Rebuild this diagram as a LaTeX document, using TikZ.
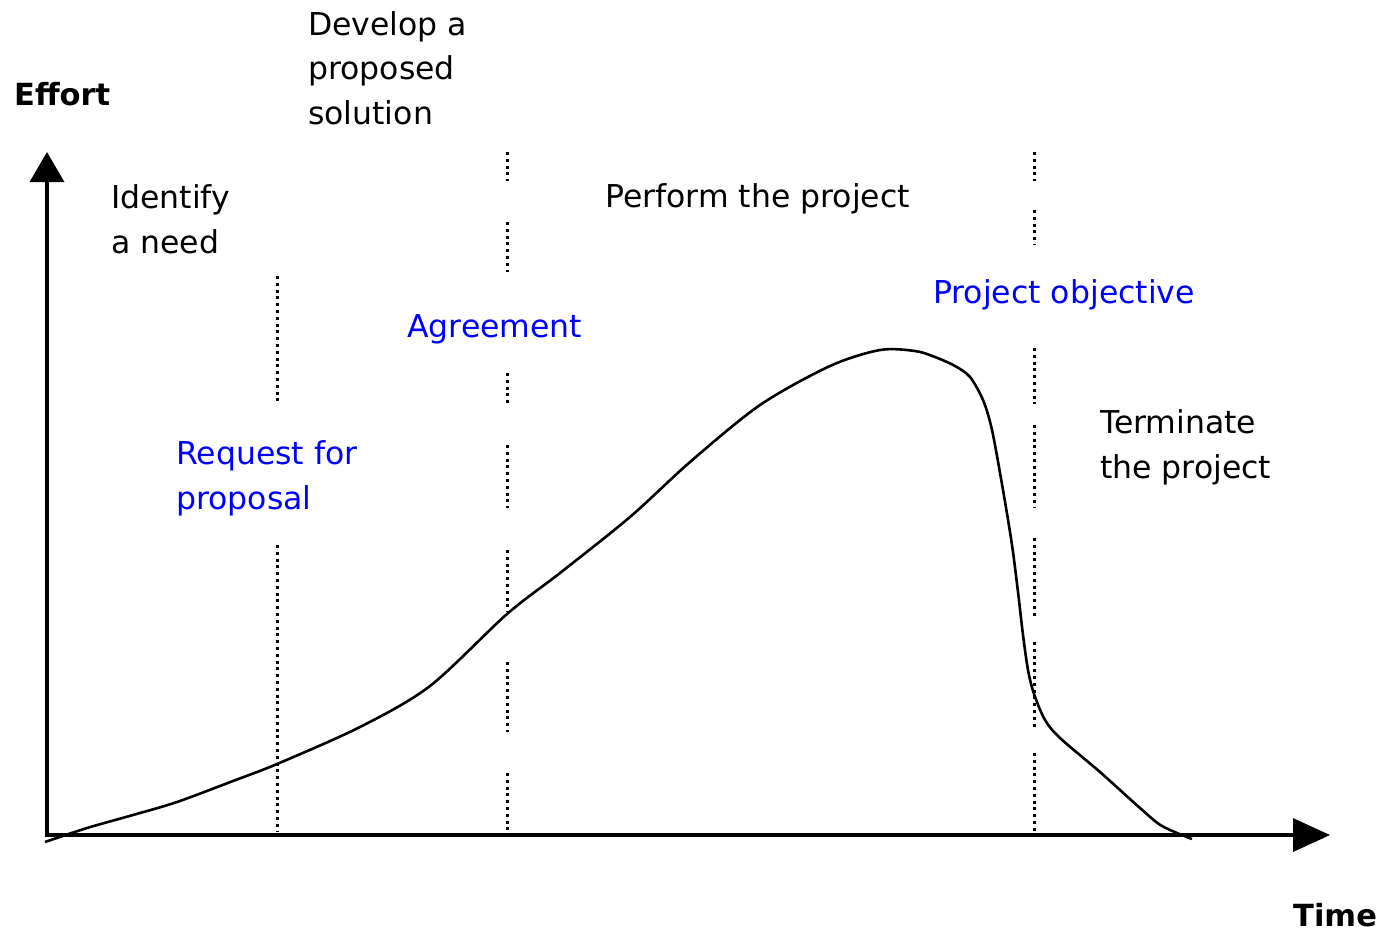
\documentclass[tikz,border=0pt]{standalone}
\usepackage{fontspec}
\setmainfont{DejaVu Sans}
\usetikzlibrary{arrows.meta}
\definecolor{lblue}{RGB}{0,0,255}
\tikzset{
  guide/.style={line width=3pt, dash pattern=on 3pt off 3.8pt},
  lbl/.style={anchor=base west, inner sep=0pt, align=left, font=\fontsize{31.5pt}{44.5pt}\selectfont},
  bluelbl/.style={lbl, text=lblue},
  axlbl/.style={anchor=base west, inner sep=0pt, font=\fontsize{30.5pt}{36pt}\selectfont\bfseries},
  curve/.style={line width=2.6pt}
}
\begin{document}
\begin{tikzpicture}[x=1pt,y=-1pt]
\useasboundingbox (0,0) rectangle (1384,932);
% axes
\coordinate (o) at (47,835);
\coordinate (ytop) at (47,152);
\coordinate (xend) at (1330,835);
\draw[line width=3.5pt, -{Triangle[length=30pt,width=34pt]}] (47,837) -- (ytop);
\draw[line width=3.5pt, -{Triangle[length=37pt,width=33pt]}] (45,835) -- (xend);
% dotted guides
\foreach \a/\b in {276/404, 545/832}
  \draw[guide] (277,\a) -- (277,\b);
\foreach \a/\b in {152/181, 222/272, 373/404, 445/508, 550/612, 662/732, 773/832}
  \draw[guide] (507,\a) -- (507,\b);
\foreach \a/\b in {152/181, 210/245, 348/404, 425/508, 538/618, 642/730, 753/832}
  \draw[guide] (1034,\a) -- (1034,\b);
% effort curve
\draw[curve] plot[smooth, tension=0.5] coordinates {
 (45,842) (87,828) (133,815) (177,802) (233,781) (277,764) (360,727)
 (430,686) (507,614) (560,573) (630,517) (690,462)
 (760,405) (830,366) (880,350) (915,351) (935,357) (955,366) (970,377)
 (983,400) (992,430) (1003,490) (1012,545) (1018,592) (1023,635) (1028,670) (1034,694)
 (1045,720) (1060,738) (1100,772) (1140,808) (1162,826) (1192,839)};
% labels
\node[axlbl] (effort) at (14,105) {Effort};
\node[axlbl] (time) at (1293,926) {Time};
\node[lbl] (identify) at (111,253) {Identify\\a need};
\node[lbl] (develop) at (308,124) {Develop a\\proposed\\solution};
\node[lbl] (perform) at (605,207) {Perform the project};
\node[lbl] (terminate) at (1100,478) {Terminate\\the project};
\node[bluelbl] (agree) at (407,337) {Agreement};
\node[bluelbl] (rfp) at (176,509) {Request for\\proposal};
\node[bluelbl] (objective) at (933,303) {Project objective};
\end{tikzpicture}
\end{document}
